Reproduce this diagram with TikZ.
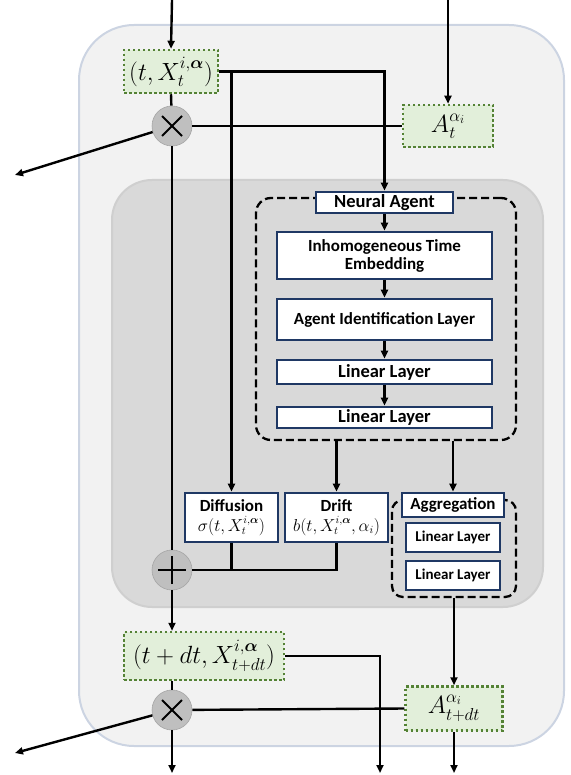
\documentclass[tikz,border=0pt]{standalone}
\usepackage{amsmath,bm}
\usepackage[no-math]{fontspec}
\setmainfont{Carlito}
\usetikzlibrary{arrows.meta}

\definecolor{navy}{RGB}{31,56,100}
\definecolor{dgreen}{RGB}{84,130,53}
\definecolor{lgreen}{RGB}{226,239,218}
\definecolor{outerfill}{RGB}{242,242,242}
\definecolor{outerline}{RGB}{204,212,226}
\definecolor{innerfill}{RGB}{217,217,217}
\definecolor{innerline}{RGB}{207,207,207}
\definecolor{opfill}{RGB}{191,191,191}
\definecolor{opline}{RGB}{165,165,165}

\newcommand{\Xa}{X^{i,\bm{\alpha}}}

\tikzset{
  layer/.style={draw=navy, line width=2.6pt, fill=white, align=center, inner sep=0pt,
    font=\bfseries\fontsize{17}{19}\selectfont},
  biglayer/.style={layer, font=\bfseries\fontsize{18.5}{20}\selectfont},
  smalllayer/.style={layer, font=\bfseries\fontsize{15}{17}\selectfont},
  state/.style={draw=dgreen, line width=2.5pt, dash pattern=on 2.5pt off 2.5pt,
    fill=lgreen, inner sep=0pt, font=\fontsize{25}{27}\selectfont},
  op/.style={circle, fill=opfill, draw=opline, line width=0.6pt,
    minimum size=40pt, inner sep=0pt},
  times/.style={op, path picture={
    \draw[black, line width=1.8pt] (path picture bounding box.center) ++(-10pt,-10pt) -- ++(20pt,20pt);
    \draw[black, line width=1.8pt] (path picture bounding box.center) ++(-10pt,10pt) -- ++(20pt,-20pt);}},
  plus/.style={op, path picture={
    \draw[black, line width=1.8pt] (path picture bounding box.center) ++(-14pt,0pt) -- ++(28pt,0pt);
    \draw[black, line width=1.8pt] (path picture bounding box.center) ++(0pt,-14pt) -- ++(0pt,28pt);}},
  group/.style={draw, line width=2.3pt, dash pattern=on 8pt off 4pt, inner sep=0pt},
  wire/.style={line width=2.4pt},
  arr/.style={wire, -{Triangle[length=8pt,width=7pt]}},
}

\begin{document}
\begin{tikzpicture}[x=1pt,y=-1pt]
\useasboundingbox (0,0) rectangle (570,775);

% outer and inner panels
\draw[fill=outerfill, draw=outerline, line width=2pt, rounded corners=55pt]
  (79,25) rectangle (564,746);
\draw[fill=innerfill, draw=innerline, line width=2pt, rounded corners=40pt]
  (112,180) rectangle (543,607);

% dashed groups
\node[group, rounded corners=15pt, minimum width=260pt, minimum height=242pt] (nagroup) at (386,319) {};
\node[group, rounded corners=11pt, minimum width=124pt, minimum height=97pt] (agggroup) at (454,548.5) {};

% state boxes
\node[state, minimum width=94pt, minimum height=43pt] (xt) at (171,71.5) {$(t,\Xa_t)$};
\node[state, minimum width=90pt, minimum height=42pt] (at) at (448,126) {$A_t^{\alpha_i}$};
\node[state, minimum width=160pt, minimum height=48pt] (xdt) at (204,656) {$(t+dt,\Xa_{t+dt})$};
\node[state, minimum width=97pt, minimum height=44pt] (adt) at (454,708.5) {$A_{t+dt}^{\alpha_i}$};

% operators
\node[times] (mul1) at (172,126) {};
\node[plus]  (add)  at (172,570) {};
\node[times] (mul2) at (172,710) {};

% neural agent
\node[biglayer, minimum width=137pt, minimum height=21pt] (na) at (384.5,202.5) {Neural Agent};
\node[layer, minimum width=215pt, minimum height=47pt] (ite) at (384.5,255.5) {Inhomogeneous Time\\[-1pt]Embedding};
\node[layer, minimum width=215pt, minimum height=41pt] (aid) at (384.5,319.5) {Agent Identification Layer};
\node[biglayer, minimum width=215pt, minimum height=24pt] (ll1) at (384.5,372) {Linear Layer};
\node[biglayer, minimum width=215pt, minimum height=21pt] (ll2) at (384.5,417.5) {Linear Layer};

% drift, diffusion, aggregation
\node[layer, minimum width=93pt, minimum height=49pt] (diff) at (231.5,517.5)
  {Diffusion\\[1pt]{\mdseries\fontsize{16}{18}\selectfont$\sigma(t,\Xa_t)$}};
\node[layer, minimum width=103pt, minimum height=49pt] (drift) at (336.5,517.5)
  {Drift\\[1pt]{\mdseries\fontsize{16}{18}\selectfont$b(t,\Xa_t,\alpha_i)$}};
\node[layer, minimum width=102pt, minimum height=24pt] (agg) at (453,505) {Aggregation};
\node[smalllayer, minimum width=94pt, minimum height=29pt] (agl1) at (453,537.5) {Linear Layer};
\node[smalllayer, minimum width=94pt, minimum height=29pt] (agl2) at (453,575.5) {Linear Layer};

% free ends
\coordinate (inX) at (172,0);
\coordinate (inA) at (448,0);
\coordinate (outL1) at (15,175);
\coordinate (outL2) at (15,753);
\coordinate (outX) at (172,773);
\coordinate (outXdt) at (380,773);
\coordinate (outA) at (454,773);

% connectors, top part
\draw[arr] (inX) -- (xt.north);
\draw[arr] (inA) -- (at.north);
\draw[wire] (xt.south) -- (mul1);
\draw[wire] (at.west) -- (mul1);
\draw[arr] (mul1) -- (outL1);
\draw[arr] (xt.east) -| (na.north);
\draw[arr] (diff.north |- xt.east) -- (diff.north);
\draw[wire] (mul1) -- (add);

% neural agent chain
\draw[arr] (na) -- (ite);
\draw[arr] (ite) -- (aid);
\draw[arr] (aid) -- (ll1);
\draw[arr] (ll1) -- (ll2);
\draw[arr] (drift.north |- nagroup.south) -- (drift.north);
\draw[arr] (agg.north |- nagroup.south) -- (agg.north);

% sum of drift and diffusion
\draw[wire] (diff.south) -- (diff.south |- add);
\draw[wire] (drift.south) |- (add);
\draw[arr] (add) -- (add |- xdt.north);

% bottom part
\draw[arr] (adt.north |- agggroup.south) -- (adt.north);
\draw[wire] (mul2 |- xdt.south) -- (mul2);
\draw[wire] (adt.west) -- (mul2);
\draw[arr] (mul2) -- (outL2);
\draw[arr] (mul2) -- (outX);
\draw[arr] (xdt.east) -| (outXdt);
\draw[arr] (adt.south) -- (outA);
\end{tikzpicture}
\end{document}
